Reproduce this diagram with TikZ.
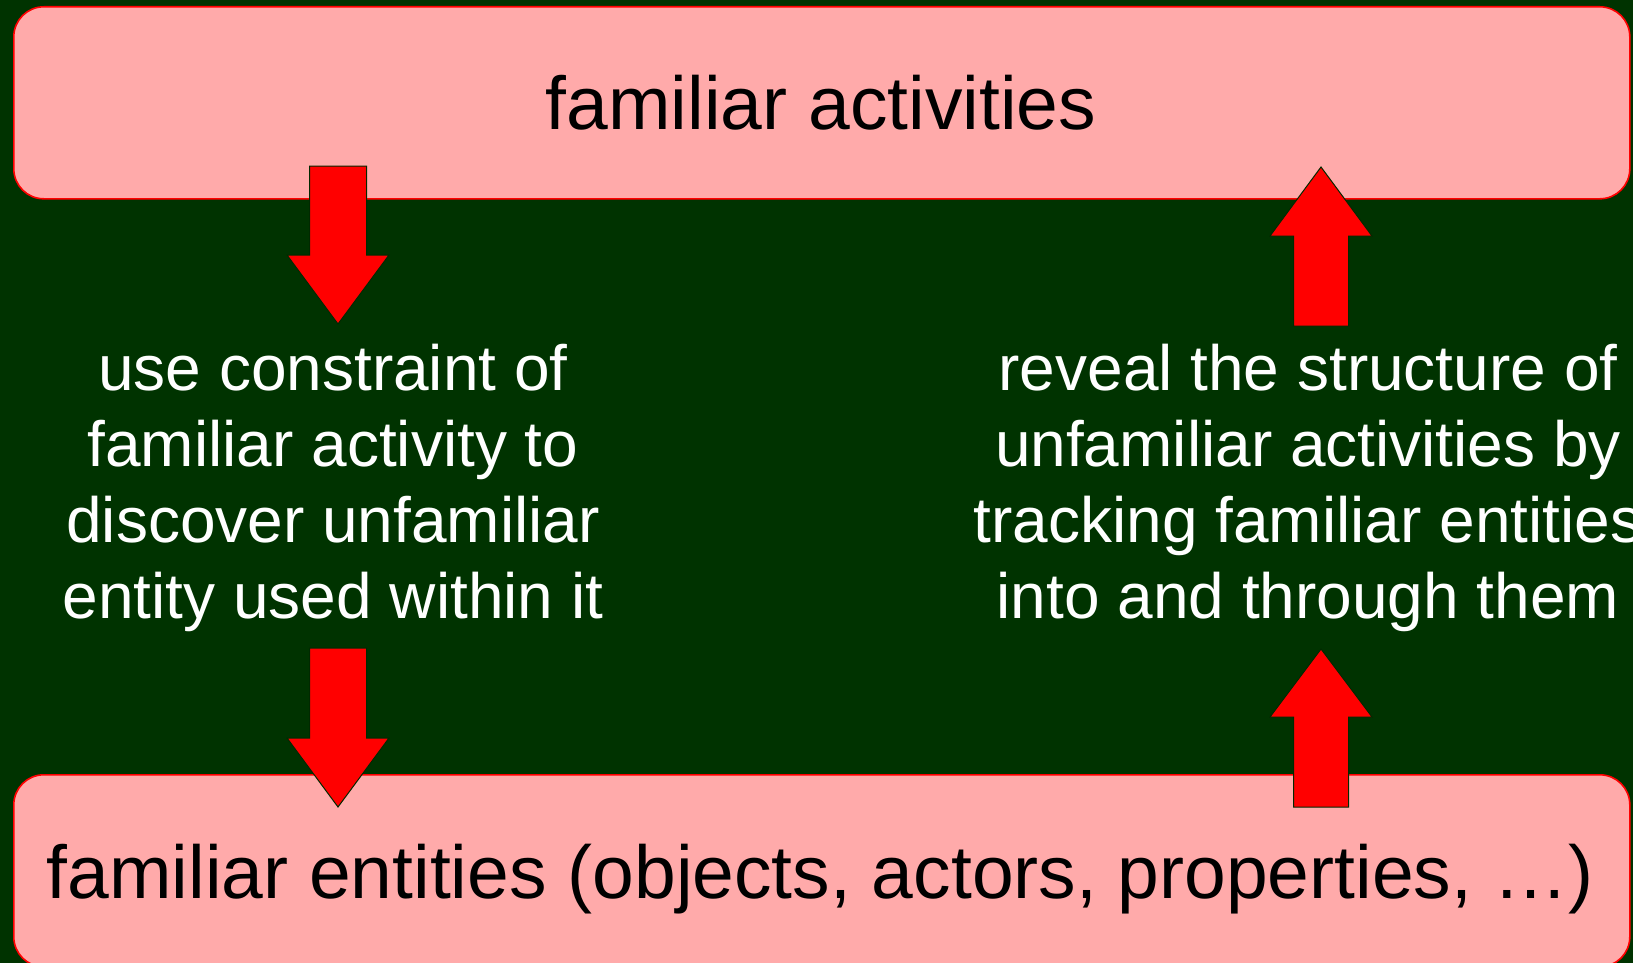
\documentclass[tikz,border=0pt]{standalone}
\usepackage{fontspec}
\setmainfont{Liberation Sans}
\definecolor{bg}{RGB}{0,51,0}
\definecolor{boxpink}{RGB}{255,170,170}
\definecolor{arrowred}{RGB}{255,0,0}
\begin{document}
\begin{tikzpicture}[x=1pt,y=-1pt,
  panel/.style={draw=red, line width=1.6pt, fill=boxpink, rounded corners=30pt,
    minimum width=1616pt, minimum height=192pt, inner sep=0pt, anchor=north west},
  bigarrow/.style={fill=arrowred, draw=bg!80!black, line width=1pt, line join=miter},
  boxtext/.style={font=\fontsize{75}{90}\selectfont, text=black, inner sep=0pt},
  note/.style={font=\fontsize{64}{76}\selectfont, text=white, align=center, inner sep=0pt}]
% background and page size
\fill[bg] (0,0) rectangle (1633,963);
\useasboundingbox (0,0) rectangle (1633,963);

% the two panels
\node[panel] (acts) at (13,6) {};
\node[panel] (ents) at (13,774) {};
\node[boxtext, anchor=base] (actslabel) at (821,130) {familiar activities};
\node[boxtext, anchor=base] (entslabel) at (820,898) {familiar entities (objects, actors, properties, …)};

% explanatory notes
\node[note] (down) at (333,488) {use constraint of\\familiar activity to\\discover unfamiliar\\entity used within it};
\node[note] (up) at (1308,488) {reveal the structure of\\unfamiliar activities by\\tracking familiar entities\\into and through them};

% block arrows, downward on the left
\path[bigarrow] (309.5,166) -- (366.5,166) -- (366.5,255) -- (389,255) -- (338,324)
  -- (287,255) -- (309.5,255) -- cycle;
\path[bigarrow] (309.5,648) -- (366.5,648) -- (366.5,738) -- (389,738) -- (338,807)
  -- (287,738) -- (309.5,738) -- cycle;
% block arrows, upward on the right
\path[bigarrow] (1293.5,326) -- (1348.5,326) -- (1348.5,236) -- (1372,236) -- (1321,167)
  -- (1270,236) -- (1293.5,236) -- cycle;
\path[bigarrow] (1293.5,807) -- (1348.5,807) -- (1348.5,717) -- (1372,717) -- (1321,649)
  -- (1270,717) -- (1293.5,717) -- cycle;
\end{tikzpicture}
\end{document}
